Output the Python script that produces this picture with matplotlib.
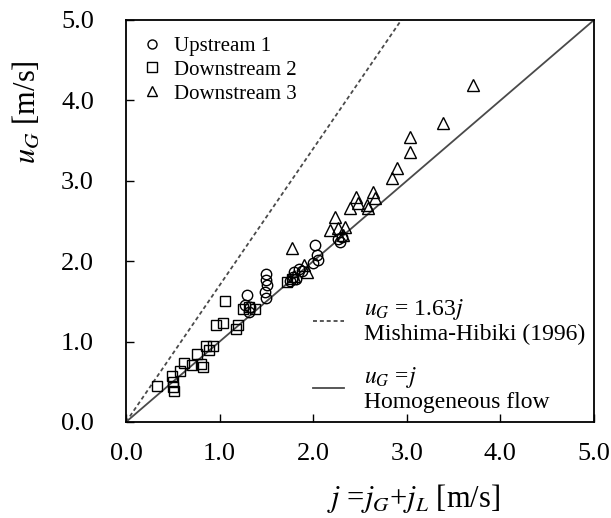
import matplotlib
matplotlib.use("Agg")
import matplotlib.pyplot as plt
from matplotlib.lines import Line2D

plt.rcParams['font.family'] = ['Liberation Serif', 'DejaVu Serif']
plt.rcParams['mathtext.fontset'] = 'stix'

# ---- data ----
up1_j = [1.29, 1.27, 1.33, 1.31, 1.50, 1.50, 1.51, 1.49, 1.50, 1.75, 1.78, 1.80,
         1.82, 1.85, 1.88, 2.02, 2.04, 2.05, 2.00, 2.26, 2.29, 2.31]
up1_u = [1.58, 1.45, 1.43, 1.37, 1.84, 1.77, 1.70, 1.62, 1.54, 1.75, 1.80, 1.86,
         1.78, 1.90, 1.88, 2.20, 2.08, 2.02, 1.98, 2.28, 2.24, 2.30]

down2_j = [0.33, 0.49, 0.50, 0.50, 0.51, 0.58, 0.62, 0.70, 0.76, 0.80, 0.82, 0.85,
           0.89, 0.93, 0.96, 1.04, 1.06, 1.18, 1.20, 1.25, 1.31, 1.38, 1.72, 1.77]
down2_u = [0.45, 0.57, 0.50, 0.43, 0.38, 0.63, 0.73, 0.71, 0.85, 0.72, 0.69, 0.94,
           0.90, 0.95, 1.21, 1.23, 1.51, 1.16, 1.21, 1.41, 1.43, 1.40, 1.74, 1.78]

down3_j = [1.77, 1.80, 1.93, 1.90, 2.18, 2.23, 2.27, 2.34, 2.32, 2.39, 2.46, 2.48,
           2.57, 2.59, 2.64, 2.66, 2.84, 2.89, 3.03, 3.03, 3.39, 3.71]
down3_u = [2.16, 1.82, 1.87, 1.95, 2.39, 2.55, 2.41, 2.43, 2.33, 2.66, 2.80, 2.72,
           2.70, 2.66, 2.86, 2.78, 3.03, 3.16, 3.36, 3.55, 3.72, 4.19]

line_j = [0.0, 5.0]
mh_slope = 1.70      # drawn slope of dashed line as seen in the picture
homo_slope = 1.0

ticks = [0.0, 1.0, 2.0, 3.0, 4.0, 5.0]
tick_labels = ["0.0", "1.0", "2.0", "3.0", "4.0", "5.0"]

# ---- figure ----
fig = plt.figure(figsize=(6.11, 5.18), dpi=100)
ax = fig.add_axes([126/611, 1 - 422/518, (594-126)/611, (422-20)/518])

line_col = '#4a4a4a'
mh_line, = ax.plot(line_j, [mh_slope*v for v in line_j], color=line_col, lw=1.3,
                   linestyle=(0, (2.2, 1.6)))
hm_line, = ax.plot(line_j, [homo_slope*v for v in line_j], color=line_col, lw=1.3)

mk = dict(linestyle='none', markerfacecolor='none', markeredgecolor='black',
          markeredgewidth=1.0)
h1, = ax.plot(up1_j, up1_u, marker='o', markersize=7.5, label='Upstream 1', **mk)
h2, = ax.plot(down2_j, down2_u, marker='s', markersize=7, label='Downstream 2', **mk)
h3, = ax.plot(down3_j, down3_u, marker='^', markersize=8.5, label='Downstream 3', **mk)

ax.set_xlim(0, 5)
ax.set_ylim(0, 5)
ax.set_xticks(ticks)
ax.set_xticklabels(tick_labels)
ax.set_yticks(ticks)
ax.set_yticklabels(tick_labels)
ax.tick_params(direction='in', length=6, width=1.0, labelsize=19)
ax.tick_params(axis='x', pad=15)
ax.tick_params(axis='y', pad=23)
for s in ax.spines.values():
    s.set_linewidth(1.3)

ax.set_xlabel(r'$j$ =$j_G$+$j_L$ [m/s]', fontsize=22)
ax.xaxis.set_label_coords(0.615, -0.15)
ax.set_ylabel(r'$u_G$ [m/s]', fontsize=22)
ax.yaxis.set_label_coords(-0.18, 0.77)

# marker legend
mkl = dict(linestyle='none', markerfacecolor='none', markeredgecolor='black',
           markeredgewidth=1.0)
leg1 = ax.legend(handles=[
    Line2D([], [], marker='o', markersize=6.5, **mkl),
    Line2D([], [], marker='s', markersize=6.5, **mkl),
    Line2D([], [], marker='^', markersize=7, **mkl)],
    labels=['Upstream 1', 'Downstream 2', 'Downstream 3'],
    loc='upper left', bbox_to_anchor=(0.012, 0.985), frameon=False, fontsize=15,
    handlelength=1.0, handletextpad=0.55, labelspacing=0.2, borderaxespad=0.2,
    borderpad=0.3)
ax.add_artist(leg1)

# line legend
leg2 = ax.legend(handles=[Line2D([], [], color=line_col, lw=1.3, linestyle=(0, (2.2, 1.6))),
                          Line2D([], [], color=line_col, lw=1.3)],
                 labels=['$u_G$ = 1.63$j$\nMishima-Hibiki (1996)', '$u_G$ =$j$\nHomogeneous flow'],
                 loc='lower left', bbox_to_anchor=(0.38, 0.0), frameon=False, fontsize=17,
                 handlelength=1.3, handletextpad=0.85, labelspacing=0.85, borderaxespad=0.2,
                 borderpad=0.2)
for t in leg2.get_texts():
    t.set_linespacing(1.1)

fig.savefig('out.png', dpi=100)
